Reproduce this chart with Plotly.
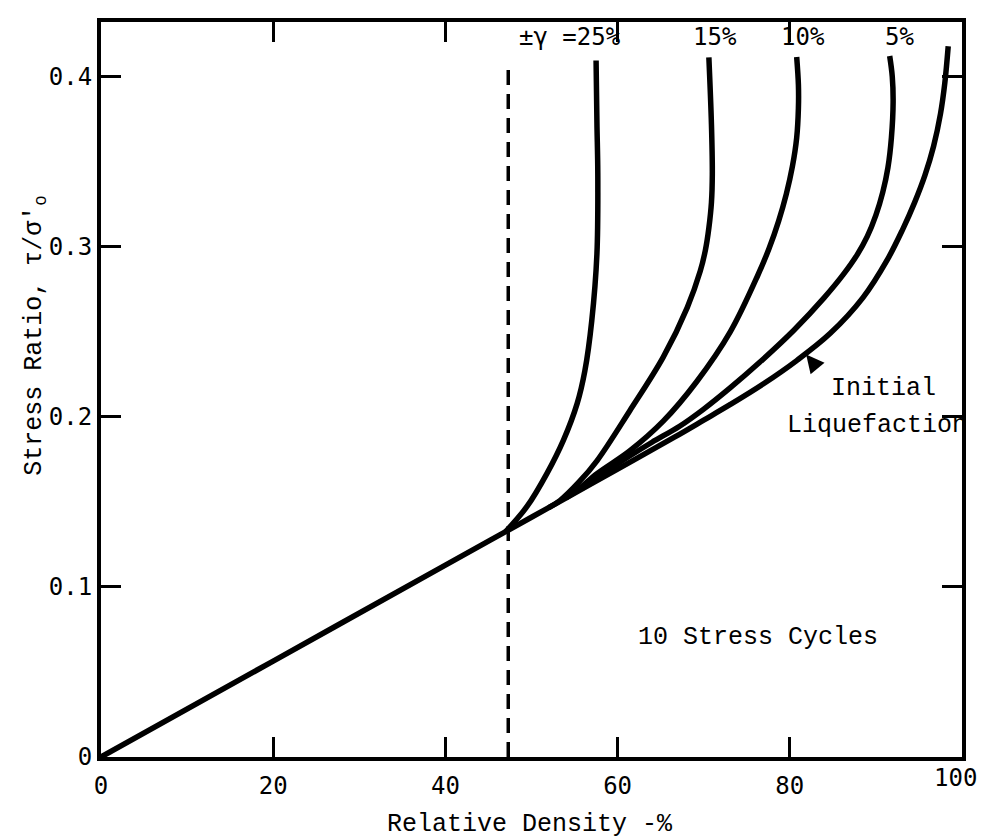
import plotly.graph_objects as go

# Initial liquefaction curve (includes straight base line from origin)
il_x = [0, 20, 40, 47.0, 53.0, 60.0, 66.6, 70.0, 73.1, 76.9, 80.8, 84.7, 88.5, 91.3, 93.1, 94.5, 95.7, 96.7, 97.5, 98.0, 98.4]
il_y = [0, 0.0564, 0.1128, 0.1325, 0.1494, 0.1692, 0.1880, 0.1980, 0.2072, 0.2192, 0.2330, 0.2490, 0.2700, 0.2920, 0.3100, 0.3260, 0.3420, 0.3590, 0.3780, 0.3960, 0.4178]

g25_x = [47.0, 49.5, 51.8, 53.7, 55.3, 56.2, 57.0, 57.6, 57.7, 57.6, 57.5]
g25_y = [0.1325, 0.1474, 0.1667, 0.1861, 0.2077, 0.2270, 0.2565, 0.2959, 0.3429, 0.3723, 0.4094]

g15_x = [52.0, 53.3, 55.5, 57.6, 61.4, 65.3, 68.1, 69.6, 70.2, 70.6, 70.9, 71.0, 70.9, 70.6]
g15_y = [0.1466, 0.1507, 0.1615, 0.1741, 0.2034, 0.2350, 0.2643, 0.2856, 0.2980, 0.3110, 0.3260, 0.3424, 0.3718, 0.4112]

g10_x = [54.0, 55.5, 57.6, 61.4, 65.3, 69.2, 73.1, 76.3, 77.6, 78.7, 79.6, 80.3, 80.8, 81.0, 81.0, 80.8]
g10_y = [0.1523, 0.1575, 0.1665, 0.1799, 0.1974, 0.2207, 0.2500, 0.2833, 0.2990, 0.3150, 0.3310, 0.3470, 0.3640, 0.3814, 0.3950, 0.4114]

g5_x = [56.0, 61.4, 64.0, 67.2, 70.0, 73.1, 76.5, 80.5, 84.0, 86.2, 87.8, 89.0, 90.0, 90.8, 91.4, 91.8, 92.0, 91.9, 91.6]
g5_y = [0.1590, 0.1769, 0.1850, 0.1944, 0.2045, 0.2171, 0.2320, 0.2510, 0.2700, 0.2835, 0.2950, 0.3060, 0.3185, 0.3320, 0.3465, 0.3640, 0.3850, 0.4000, 0.4120]

dash_x = [47.3, 47.3]
dash_y = [0.0, 0.405]

x_ticks = [0, 20, 40, 60, 80, 100]
y_ticks = [0, 0.1, 0.2, 0.3, 0.4]

curve_labels = ["±γ =25%", "15%", "10%", "5%"]
curve_label_x = [54.5, 71.3, 81.5, 92.7]
curve_label_y = 0.423

TICKFONT = "DejaVu Sans Mono"
TXTFONT = "Liberation Mono"

fig = go.Figure()
line = dict(color="black", width=5.5, shape="spline", smoothing=1.0)
for xs, ys in [(il_x, il_y), (g25_x, g25_y), (g15_x, g15_y), (g10_x, g10_y), (g5_x, g5_y)]:
    fig.add_trace(go.Scatter(x=xs, y=ys, mode="lines", line=line, showlegend=False, hoverinfo="skip"))

fig.add_trace(go.Scatter(x=dash_x, y=dash_y, mode="lines",
                         line=dict(color="black", width=3.5, dash="15px,9px"),
                         showlegend=False, hoverinfo="skip"))

annotations = []
for t, xv in zip(curve_labels, curve_label_x):
    annotations.append(dict(x=xv, y=curve_label_y, text=t, showarrow=False,
                            font=dict(family=TICKFONT, size=24, color="black"),
                            xanchor="center", yanchor="middle"))
annotations += [
    dict(x=76.3, y=0.0705, text="10 Stress Cycles", showarrow=False,
         font=dict(family=TXTFONT, size=25, color="black")),
    dict(x=90.9, y=0.2165, text="Initial", showarrow=False,
         font=dict(family=TXTFONT, size=25, color="black")),
    dict(x=90.1, y=0.1950, text="Liquefaction", showarrow=False,
         font=dict(family=TXTFONT, size=25, color="black")),
    dict(x=81.9, y=0.2365, text="", showarrow=True, ax=9, ay=11,
         arrowhead=2, arrowsize=1.2, arrowwidth=3, arrowcolor="black"),
    # last x tick label placed manually so it stays inside the page
    dict(x=x_ticks[-1], y=0, xref="x", yref="paper", text=str(x_ticks[-1]),
         showarrow=False, xanchor="right", yanchor="top", xshift=17, yshift=-5,
         font=dict(family=TICKFONT, size=24, color="black")),
    dict(x=0.498, y=-0.0925, xref="paper", yref="paper", text="Relative Density -%",
         showarrow=False, font=dict(family=TXTFONT, size=25, color="black"),
         xanchor="center", yanchor="middle"),
    dict(x=-0.077, y=0.574, xref="paper", yref="paper", text="Stress Ratio, τ/σ'<sub>o</sub>",
         showarrow=False, textangle=-90, font=dict(family=TXTFONT, size=25, color="black"),
         xanchor="center", yanchor="middle"),
]

axis_common = dict(showgrid=False, zeroline=False, showline=True, linewidth=4, linecolor="black",
                   mirror="ticks", ticks="inside", ticklen=20, tickwidth=3, tickcolor="black",
                   automargin=False,
                   tickfont=dict(family=TICKFONT, size=24, color="black"))

fig.update_xaxes(range=[0, 100], tickvals=x_ticks[:-1], ticklabelstandoff=4, **axis_common)
fig.update_yaxes(range=[0, 0.432], tickvals=y_ticks, ticklabelstandoff=0, **axis_common)

fig.update_layout(width=981, height=840, margin=dict(l=101, r=19, t=22, b=83, autoexpand=False),
                  plot_bgcolor="white", paper_bgcolor="white", annotations=annotations)

fig.write_html("out.html")
